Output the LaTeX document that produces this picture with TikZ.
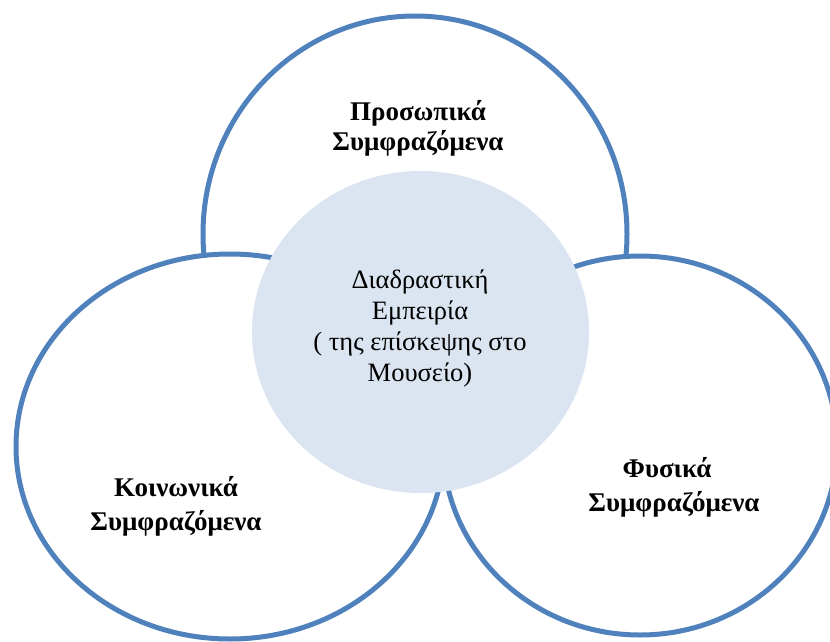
\documentclass[tikz,border=0pt]{standalone}
\usepackage{fontspec}
\setmainfont{Liberation Serif}
\usetikzlibrary{shapes.geometric}
\definecolor{ringblue}{RGB}{79,129,189}
\definecolor{corefill}{RGB}{219,229,241}
\begin{document}
\begin{tikzpicture}[x=1pt,y=-1pt,
  ring/.style={ellipse, draw=ringblue, line width=5pt, fill=white, inner sep=0pt},
  core/.style={ellipse, fill=corefill, draw=none, inner sep=0pt},
  lab/.style={align=center, inner sep=0pt, font=\fontsize{27}{30}\selectfont\bfseries},
  corelab/.style={align=center, inner sep=0pt, font=\fontsize{26.5}{31}\selectfont}]
\useasboundingbox (0,0) rectangle (830,642);
\clip (0,0) rectangle (830,642);
\node[ring, minimum width=424pt, minimum height=436pt] (top) at (415,234) {};
\node[ring, minimum width=428pt, minimum height=385pt] (left) at (230,446.5) {};
\node[ring, minimum width=394pt, minimum height=379pt] (right) at (640,445.5) {};
\node[core, minimum width=337pt, minimum height=322pt] (core) at (420.5,332) {};
\node[lab] (toplab) at (418,128) {Προσωπικά\\Συμφραζόμενα};
\node[lab, font=\fontsize{27}{34}\selectfont\bfseries] (leftlab) at (176,506) {Κοινωνικά\\Συμφραζόμενα};
\node[lab, font=\fontsize{27}{34}\selectfont\bfseries] (rightlab) at (674,487) {Φυσικά\kern14pt\\Συμφραζόμενα};
\node[corelab] (corelab) at (420,328) {Διαδραστική\\Εμπειρία\\( της επίσκεψης στο\\Μουσείο)};
\end{tikzpicture}
\end{document}
